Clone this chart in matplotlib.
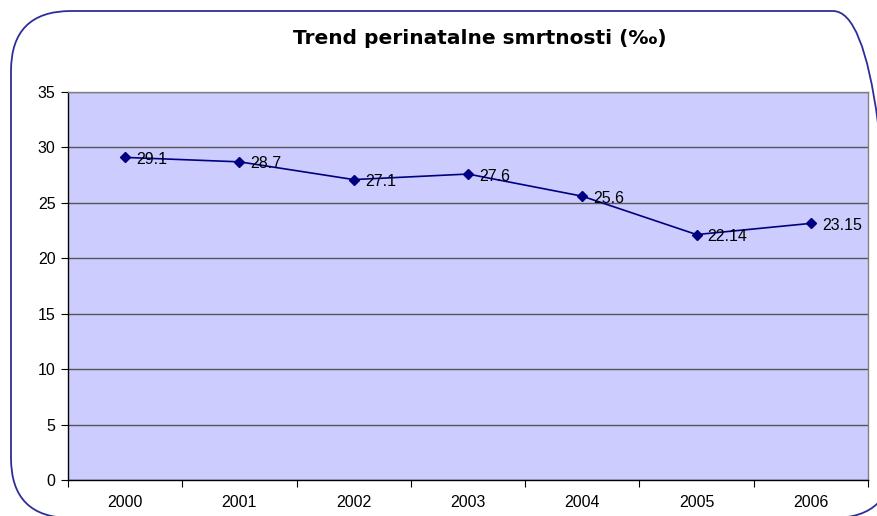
import matplotlib
matplotlib.use("Agg")
import matplotlib.pyplot as plt
from matplotlib.patches import FancyBboxPatch
from matplotlib.transforms import IdentityTransform

years = ["2000", "2001", "2002", "2003", "2004", "2005", "2006"]
values = [29.1, 28.7, 27.1, 27.6, 25.6, 22.14, 23.15]
labels = ["29.1", "28.7", "27.1", "27.6", "25.6", "22.14", "23.15"]
title = "Trend perinatalne smrtnosti (‰)"

W, H = 878, 516
fig = plt.figure(figsize=(W / 100, H / 100), dpi=100)
fig.patch.set_facecolor("white")

ax = fig.add_axes([68 / W, 1 - 480 / H, 800 / W, 388 / H])
ax.set_facecolor("#CCCCFF")
x = list(range(len(years)))
ax.plot(x, values, color="#000080", lw=1.2, marker="D", markersize=5,
        markerfacecolor="#000080", markeredgecolor="#000080", zorder=3)
for xi, v, lab in zip(x, values, labels):
    ax.annotate(lab, (xi, v), xytext=(8, -1.5), textcoords="offset points",
                ha="left", va="center", fontsize=11.5, family="Liberation Sans",
                color="black", zorder=4)

ax.set_xlim(-0.5, len(years) - 0.5)
ax.set_ylim(0, 35)
ax.set_yticks(range(0, 36, 5))
ax.set_xticks(x)
ax.set_xticklabels(years)
ax.set_xticks([i + 0.5 for i in range(-1, len(years))], minor=True)
ax.tick_params(axis="x", which="major", length=0, pad=11)
ax.tick_params(axis="x", which="minor", length=5, width=0.8, color="black", direction="out")
ax.tick_params(axis="y", length=5, width=0.8, color="black", pad=4)
for lab in ax.get_xticklabels() + ax.get_yticklabels():
    lab.set_family("Liberation Sans")
    lab.set_fontsize(11.5)
ax.yaxis.grid(True, color="#555555", lw=1.0)
ax.set_axisbelow(True)
for s in ["top", "right"]:
    ax.spines[s].set_color("#808080")
    ax.spines[s].set_linewidth(1.0)
for s in ["left", "bottom"]:
    ax.spines[s].set_color("black")
    ax.spines[s].set_linewidth(1.0)

fig.text(480 / W, 1 - 38 / H, title, ha="center", va="center",
         fontsize=14.5, fontweight="bold", family="DejaVu Sans")

border = FancyBboxPatch((11, -2), 882, 507,
                        boxstyle="round,pad=0,rounding_size=60",
                        transform=IdentityTransform(), facecolor="none",
                        edgecolor="#2E2E9A", lw=1.3)
fig.patches.append(border)
border.set_figure(fig)

fig.savefig("out.png", dpi=100)
